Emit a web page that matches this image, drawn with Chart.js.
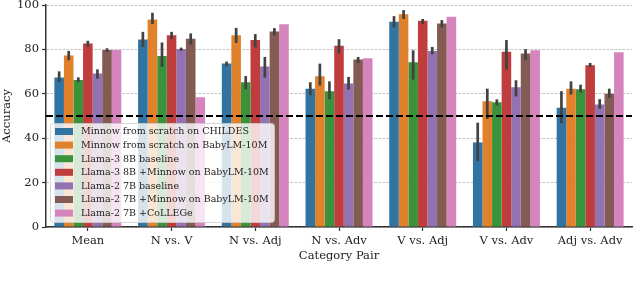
<!DOCTYPE html>
<html>
<head>
<meta charset="utf-8">
<script src="https://cdn.jsdelivr.net/npm/chart.js@4.4.0/dist/chart.umd.min.js"></script>
<style>
  html, body { margin: 0; padding: 0; background: #fff; }
  #wrap { width: 640px; height: 281px; position: relative; }
</style>
</head>
<body>
<div id="wrap"><canvas id="chart"></canvas></div>
<script>
const categories = ['Mean', 'N vs. V', 'N vs. Adj', 'N vs. Adv', 'V vs. Adj', 'V vs. Adv', 'Adj vs. Adv'];
const seriesNames = [
    'Minnow from scratch on CHILDES',
    'Minnow from scratch on BabyLM-10M',
    'Llama-3 8B baseline',
    'Llama-3 8B +Minnow on BabyLM-10M',
    'Llama-2 7B baseline',
    'Llama-2 7B +Minnow on BabyLM-10M',
    'Llama-2 7B +CoLLEGe'
];
const colors = ['#3274a1', '#e1812c', '#3a923a', '#c03d3e', '#9372b2', '#845b53', '#d684bd'];

// values per series, one per category
const childes = [67.3, 84.5, 73.6, 62.3, 92.5, 38.1, 53.7];
const babylm = [77.2, 93.5, 86.4, 67.9, 95.8, 56.6, 62.3];
const llama3Base = [66.2, 77.0, 65.2, 61.1, 74.2, 56.2, 62.1];
const llama3Minnow = [82.7, 86.4, 84.2, 81.6, 92.9, 78.9, 72.9];
const llama2Base = [69.2, 80.2, 72.3, 64.6, 79.3, 63.0, 55.2];
const llama2Minnow = [79.7, 84.8, 88.1, 75.4, 91.7, 78.2, 60.0];
const college = [79.7, 58.5, 91.3, 76.0, 94.7, 79.6, 78.7];

// error bar ranges (low, high); null = no bar
const childesErr = [[65.3, 70.1], [81.1, 87.9], [72.4, 74.5], [59.3, 65.2], [89.9, 95.0], [29.7, 47.0], [46.8, 61.2]];
const babylmErr = [[75.1, 79.3], [91.4, 96.5], [82.9, 89.7], [63.7, 73.6], [93.7, 97.7], [48.7, 62.3], [59.7, 65.6]];
const llama3BaseErr = [[65.3, 67.4], [72.1, 83.1], [62.0, 68.0], [57.5, 65.6], [66.4, 79.6], [54.8, 57.5], [60.6, 64.1]];
const llama3MinnowErr = [[81.2, 83.9], [84.6, 87.9], [80.9, 86.9], [78.1, 84.6], [91.4, 93.7], [70.9, 84.2], [72.1, 73.9]];
const llama2BaseErr = [[66.8, 71.0], [79.3, 80.8], [67.3, 76.6], [61.9, 67.6], [77.8, 81.1], [58.8, 66.1], [53.3, 57.6]];
const llama2MinnowErr = [[78.8, 80.5], [82.2, 87.2], [86.3, 89.6], [73.9, 76.6], [89.9, 93.2], [75.1, 80.1], [58.2, 62.3]];
const collegeErr = [null, null, null, null, null, null, null];

const yTicks = [0, 20, 40, 60, 80, 100];
const chanceLevel = 50;

const allValues = [childes, babylm, llama3Base, llama3Minnow, llama2Base, llama2Minnow, college];
const allErrors = [childesErr, babylmErr, llama3BaseErr, llama3MinnowErr, llama2BaseErr, llama2MinnowErr, collegeErr];

const FONT = '"DejaVu Serif", serif';

// error bars drawn over each bar
const errorBars = {
    id: 'errorBars',
    afterDatasetsDraw(chart) {
        const ctx = chart.ctx;
        const y = chart.scales.y;
        ctx.save();
        ctx.strokeStyle = '#424242';
        ctx.lineWidth = 2.7;
        chart.data.datasets.forEach((ds, di) => {
            const meta = chart.getDatasetMeta(di);
            meta.data.forEach((bar, i) => {
                const e = ds.errors[i];
                if (!e) return;
                ctx.beginPath();
                ctx.moveTo(bar.x, y.getPixelForValue(e[0]));
                ctx.lineTo(bar.x, y.getPixelForValue(e[1]));
                ctx.stroke();
            });
        });
        ctx.restore();
    }
};

// dashed chance line + legend inside the plot
const overlay = {
    id: 'overlay',
    afterDraw(chart) {
        const ctx = chart.ctx;
        const area = chart.chartArea;
        const yPix = chart.scales.y.getPixelForValue(chanceLevel);
        ctx.save();
        ctx.strokeStyle = '#000';
        ctx.lineWidth = 2;
        ctx.setLineDash([7, 3]);
        ctx.beginPath();
        ctx.moveTo(area.left, yPix);
        ctx.lineTo(area.right, yPix);
        ctx.stroke();
        ctx.setLineDash([]);

        // legend box
        const bx = 50.5, by = 123.5, bw = 224, bh = 99;
        ctx.fillStyle = 'rgba(255,255,255,0.8)';
        ctx.strokeStyle = 'rgba(204,204,204,0.8)';
        ctx.lineWidth = 1;
        ctx.beginPath();
        ctx.roundRect(bx, by, bw, bh, 3);
        ctx.fill();
        ctx.stroke();

        ctx.font = '9.5px ' + FONT;
        ctx.textBaseline = 'middle';
        chart.data.datasets.forEach((ds, i) => {
            const rowY = 131.5 + i * 13.6;
            ctx.fillStyle = ds.backgroundColor;
            ctx.fillRect(55, rowY - 3.5, 18, 7);
            ctx.fillStyle = '#222';
            ctx.fillText(ds.label, 81, rowY + 0.5);
        });
        ctx.restore();
    }
};

new Chart(document.getElementById('chart'), {
    type: 'bar',
    data: {
        labels: categories,
        datasets: allValues.map((vals, i) => ({
            label: seriesNames[i],
            data: vals,
            errors: allErrors[i],
            backgroundColor: colors[i],
            borderWidth: 0,
            categoryPercentage: 0.8,
            barPercentage: 1.0
        }))
    },
    options: {
        responsive: true,
        maintainAspectRatio: false,
        animation: false,
        layout: { padding: { top: 5, right: 8, left: 0, bottom: 18 } },
        plugins: {
            legend: { display: false },
            tooltip: { enabled: false }
        },
        scales: {
            x: {
                grid: { display: true, drawOnChartArea: false, offset: false, tickLength: 4, tickColor: '#333', tickWidth: 1.2 },
                border: { color: '#333', width: 1.5 },
                ticks: { color: '#222', font: { family: FONT, size: 11.5 }, padding: 3, maxRotation: 0 },
                title: { display: true, text: 'Category Pair', color: '#222', font: { family: FONT, size: 11.5 }, padding: { top: 1, bottom: 0 } },
                afterFit(scale) { scale.height = 36; }
            },
            y: {
                min: 0,
                max: 100,
                afterBuildTicks(scale) { scale.ticks = yTicks.map(v => ({ value: v })); },
                grid: { color: '#b0b0b0', lineWidth: 0.8, tickLength: 4, tickColor: '#333', tickWidth: 1.2, tickBorderDash: [] },
                border: { color: '#333', width: 1.5, dash: [2.5, 1.5] },
                ticks: { color: '#222', font: { family: FONT, size: 11.5 }, padding: 3 },
                title: { display: true, text: 'Accuracy', color: '#222', font: { family: FONT, size: 11.5 }, padding: { top: 0, bottom: 2 } },
                afterFit(scale) {
                    scale.width = 46;
                    scale.paddingTop = 0;
                    scale.paddingBottom = 0;
                }
            }
        }
    },
    plugins: [errorBars, overlay]
});
</script>
</body>
</html>
